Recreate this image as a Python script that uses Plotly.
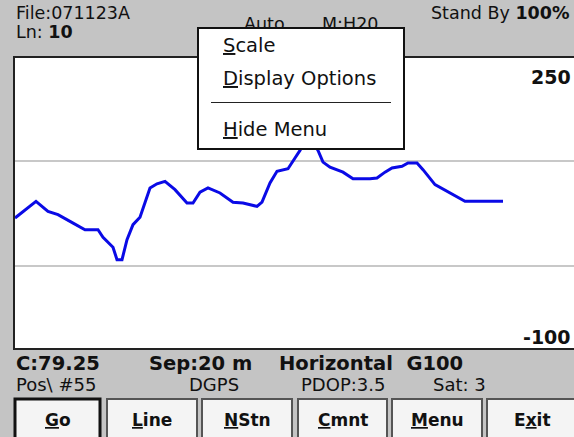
import plotly.graph_objects as go

# ---- data (profile) ----
stations = [0, 21, 33, 43, 55, 70, 83, 88, 98, 102, 107, 112, 118, 125, 135, 142, 150, 160,
            172, 178, 185, 193, 205, 218, 228, 242, 247, 255, 262, 273, 280, 285, 294, 303,
            308, 315, 328, 338, 355, 362, 370, 377, 387, 393, 402, 408, 420, 432, 450, 488]
values = [57, 77, 65, 61, 53, 43, 43, 34, 22, 7, 7, 31, 49, 58, 93, 98, 101, 91,
          75, 75, 88, 93, 87, 76, 75, 71, 76, 99, 113, 116, 129, 138, 157, 138,
          124, 118, 112, 104, 104, 105, 112, 117, 119, 123, 123, 115, 97, 89, 77, 77]
y_min, y_max = -100, 250
grid_vals = [0, 125]
x_range = [0, 559]

header_left = ["File:071123A", "Ln: <b>10</b>"]
header_mid = ["Auto", "M:H20"]
header_right = "Stand By <b>100%</b>"
menu_items = ["<u>S</u>cale", "<u>D</u>isplay Options", "<u>H</u>ide Menu"]
status1 = ["C:79.25", "Sep:20 m", "Horizontal  G100"]
status2 = ["Pos\\ #55", "DGPS", "PDOP:3.5", "Sat: 3"]
buttons = ["<u>G</u>o", "<u>L</u>ine", "<u>N</u>Stn", "<u>C</u>mnt", "<u>M</u>enu", "E<u>x</u>it"]

W, H = 574, 437
FONT = "DejaVu Sans"
GRAY = "#c4c4c4"


def px(x):
    return x / W


def py(y):
    return 1 - y / H


fig = go.Figure()
fig.add_trace(go.Scatter(x=stations, y=values, mode="lines",
                         line=dict(color="#0a0ae6", width=3), hoverinfo="skip"))

ann = []
shapes = []


def text(x, y, s, size=14, anchor="left", color="#111", bold=False):
    if bold:
        s = "<b>" + s + "</b>"
    ann.append(dict(x=px(x), y=py(y), xref="paper", yref="paper", text=s, showarrow=False,
                    xanchor=anchor, yanchor="middle", font=dict(family=FONT, size=size, color=color)))


# header
text(14, 13, header_left[0], 17.5)
text(14, 32, header_left[1], 17.5)
text(242, 24, header_mid[0], 17.5)
text(320, 24, header_mid[1], 17.5)
text(429, 13, header_right, 17.5)

# axis value labels
ann.append(dict(x=1, y=y_max, xref="paper", yref="y", text="<b>%d</b>" % y_max, showarrow=False,
                xanchor="right", yanchor="top", xshift=-1, yshift=-7,
                font=dict(family=FONT, size=19, color="#111")))
ann.append(dict(x=1, y=y_min, xref="paper", yref="y", text="<b>%d</b>" % y_min, showarrow=False,
                xanchor="right", yanchor="bottom", xshift=-1, yshift=-1,
                font=dict(family=FONT, size=19, color="#111")))

# popup menu (box drawn as annotation so it covers header text)
ann.append(dict(x=px(197), y=py(27), xref="paper", yref="paper", text=" ", showarrow=False,
                xanchor="left", yanchor="top", width=204, height=119, bgcolor="white",
                bordercolor="#111", borderwidth=2, borderpad=0, font=dict(size=10)))
text(221, 45, menu_items[0], 19.5)
text(221, 79, menu_items[1], 19.5)
ann.append(dict(x=px(211), y=py(102), xref="paper", yref="paper", text=" ", showarrow=False,
                xanchor="left", yanchor="middle", width=180, height=1, bgcolor="#222",
                borderwidth=0, borderpad=0, font=dict(size=1)))
text(221, 129, menu_items[2], 19.5)

# status lines
text(14, 363, status1[0], 19.5, bold=True)
text(147, 363, status1[1], 19.5, bold=True)
text(277, 363, status1[2], 19.5, bold=True)
text(14, 384, status2[0], 18)
text(187, 384, status2[1], 18)
text(299, 384, status2[2], 18)
text(431, 384, status2[3], 18)

# buttons
bx = [(15, 100), (107, 197), (202, 292), (298, 387), (392, 482), (487, 578)]
for i, (a, b) in enumerate(bx):
    shapes.append(dict(type="rect", xref="paper", yref="paper", x0=px(a), x1=px(b),
                       y0=py(440), y1=py(399), fillcolor="#f4f4f4",
                       line=dict(color="#111" if i == 0 else "#555", width=3 if i == 0 else 2),
                       layer="above"))
    text((a + b) / 2, 420, buttons[i], 17, anchor="center", bold=True)

# plot frame
shapes.append(dict(type="rect", xref="paper", yref="paper", x0=px(14), x1=px(580),
                   y0=py(349), y1=py(57), line=dict(color="#222", width=2), layer="above"))

fig.update_layout(
    width=W, height=H, margin=dict(l=0, r=0, t=0, b=0),
    paper_bgcolor=GRAY, plot_bgcolor="white", showlegend=False,
    xaxis=dict(domain=[px(15), 1], range=x_range, showgrid=False, zeroline=False,
               showticklabels=False, ticks="", fixedrange=True),
    yaxis=dict(domain=[py(349), py(57)], range=[y_min, y_max], tickvals=grid_vals,
               showgrid=True, gridcolor="#c8c8c8", gridwidth=2, zeroline=False,
               showticklabels=False, ticks="", fixedrange=True),
    annotations=ann, shapes=shapes,
)

fig.write_html("out.html", config={"displayModeBar": False},
               post_script="document.body.style.margin='0';document.body.style.overflow='hidden';")
